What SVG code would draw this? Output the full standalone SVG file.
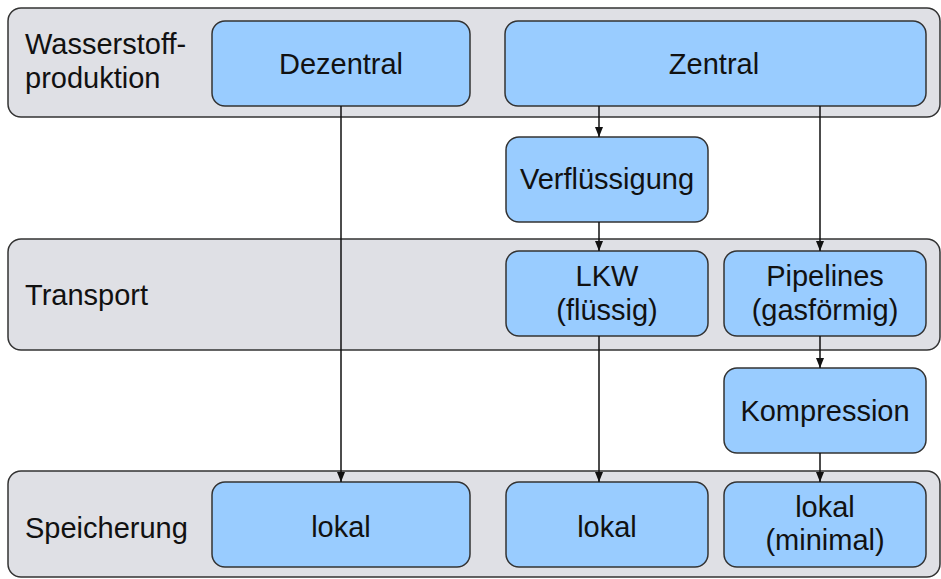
<svg xmlns="http://www.w3.org/2000/svg" width="941" height="579" viewBox="0 0 941 579">
<style>
.band{fill:#dfe0e5;stroke:#333;stroke-width:1.5}
.box{fill:#99ccff;stroke:#333;stroke-width:1.5}
text{font-family:"Liberation Sans",Arial,sans-serif;font-size:29px;fill:#111}
.c{text-anchor:middle}
.edge{stroke:#111;stroke-width:1.5;fill:none;marker-end:url(#arr)}
</style>
<defs>
<marker id="arr" markerWidth="10" markerHeight="10" refX="10" refY="5" orient="auto" markerUnits="userSpaceOnUse">
<path d="M0,1 L10,5 L0,9 Z" fill="#111"/>
</marker>
</defs>
<g id="band-produktion">
<rect class="band" x="8" y="8" width="932" height="109" rx="13"/>
<text x="25" y="54">Wasserstoff-</text>
<text x="25" y="88">produktion</text>
</g>
<g id="band-transport">
<rect class="band" x="8" y="239" width="932" height="111" rx="13"/>
<text x="25" y="305">Transport</text>
</g>
<g id="band-speicherung">
<rect class="band" x="8" y="471" width="932" height="106" rx="13"/>
<text x="25" y="538">Speicherung</text>
</g>
<g id="dezentral">
<rect class="box" x="212" y="21" width="258" height="85" rx="13"/>
<text class="c" x="341" y="74">Dezentral</text>
</g>
<g id="zentral">
<rect class="box" x="505" y="21" width="421" height="85" rx="13"/>
<text class="c" x="714" y="74">Zentral</text>
</g>
<g id="verfluessigung">
<rect class="box" x="506" y="137" width="202" height="85" rx="13"/>
<text class="c" x="607" y="189">Verflüssigung</text>
</g>
<g id="lkw">
<rect class="box" x="506" y="251" width="202" height="85" rx="13"/>
<text class="c" x="607" y="286">LKW</text>
<text class="c" x="607" y="320">(flüssig)</text>
</g>
<g id="pipelines">
<rect class="box" x="724" y="251" width="202" height="85" rx="13"/>
<text class="c" x="825" y="286">Pipelines</text>
<text class="c" x="825" y="320">(gasförmig)</text>
</g>
<g id="kompression">
<rect class="box" x="724" y="368" width="202" height="85" rx="13"/>
<text class="c" x="825" y="421">Kompression</text>
</g>
<g id="lokal1">
<rect class="box" x="212" y="482" width="258" height="85" rx="13"/>
<text class="c" x="341" y="537">lokal</text>
</g>
<g id="lokal2">
<rect class="box" x="506" y="482" width="202" height="85" rx="13"/>
<text class="c" x="607" y="537">lokal</text>
</g>
<g id="lokal3">
<rect class="box" x="724" y="482" width="202" height="85" rx="13"/>
<text class="c" x="825" y="517">lokal</text>
<text class="c" x="825" y="550">(minimal)</text>
</g>
<g id="connectors">
<path class="edge" d="M341,106 V482"/>
<path class="edge" d="M599,106 V137"/>
<path class="edge" d="M820,106 V251"/>
<path class="edge" d="M599,222 V251"/>
<path class="edge" d="M599,336 V482"/>
<path class="edge" d="M820,336 V368"/>
<path class="edge" d="M820,453 V482"/>
</g>
</svg>
